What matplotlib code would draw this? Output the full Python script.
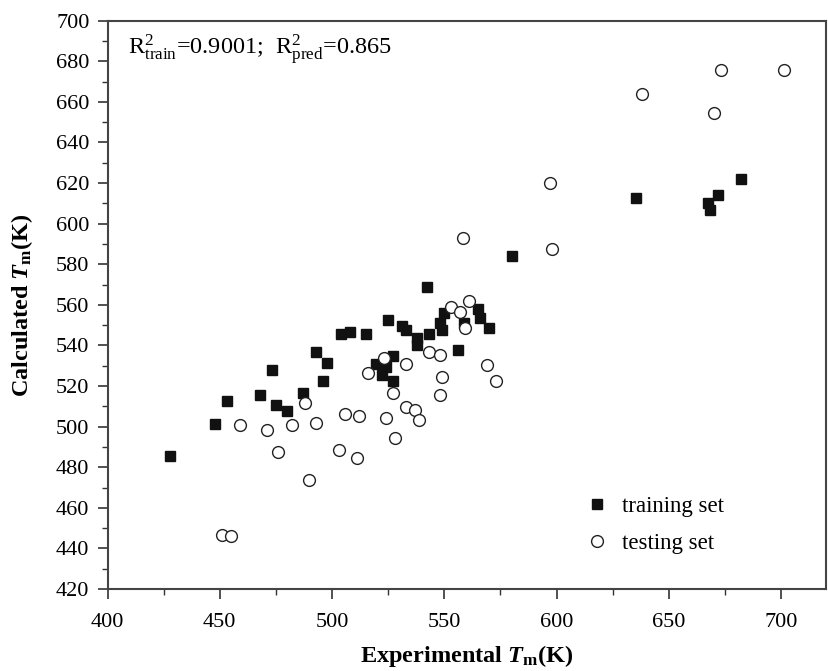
import matplotlib
matplotlib.use("Agg")
import matplotlib.pyplot as plt
from matplotlib.ticker import MultipleLocator

plt.rcParams["font.family"] = ["Liberation Serif", "DejaVu Serif"]
plt.rcParams["mathtext.fontset"] = "custom"
plt.rcParams["mathtext.rm"] = "Liberation Serif"
plt.rcParams["mathtext.it"] = "Liberation Serif:italic"
plt.rcParams["mathtext.bf"] = "Liberation Serif:bold"
plt.rcParams["mathtext.bfit"] = "Liberation Serif:italic:bold"

# training set (experimental, calculated)
train_exp = [427.9, 447.9, 453.0, 467.9, 473.1, 475.0, 480.0, 486.9, 492.8, 495.8,
             497.8, 504.1, 508.0, 515.0, 519.6, 522.1, 524.0, 524.9, 527.1, 527.1,
             531.0, 532.9, 538.0, 538.0, 542.2, 543.1, 548.1, 549.0, 549.9, 556.1,
             558.8, 565.0, 565.9, 570.1, 580.1, 635.2, 667.3, 668.2, 672.0, 682.2]
train_calc = [485.4, 501.4, 512.5, 515.4, 527.7, 510.5, 507.5, 516.4, 536.6, 522.5,
              531.5, 545.6, 546.8, 545.5, 530.7, 525.4, 529.5, 552.5, 534.8, 522.5,
              549.6, 547.6, 543.5, 540.2, 568.6, 545.5, 550.9, 547.6, 555.8, 537.8,
              550.9, 557.8, 553.4, 548.6, 584.0, 612.8, 610.0, 606.7, 614.0, 621.9]

# testing set
test_exp = [450.8, 455.2, 458.9, 471.0, 475.9, 482.0, 487.9, 489.8, 492.8, 502.9,
            505.9, 511.0, 511.9, 516.0, 523.1, 524.0, 527.0, 528.0, 532.9, 532.9,
            537.1, 538.9, 543.1, 548.0, 548.1, 549.0, 553.1, 557.2, 558.1, 559.1,
            561.0, 568.9, 573.1, 597.1, 598.0, 638.0, 670.0, 673.1, 701.2]
test_calc = [446.6, 446.1, 500.7, 498.3, 487.5, 500.7, 511.5, 473.7, 501.6, 488.3,
             506.4, 484.4, 505.4, 526.6, 533.7, 504.4, 516.4, 494.5, 530.7, 509.7,
             508.3, 503.4, 536.6, 515.4, 535.4, 524.4, 558.8, 556.6, 592.8, 548.6,
             561.7, 530.5, 522.5, 619.9, 587.5, 663.7, 654.7, 675.7, 675.7]

fig = plt.figure(figsize=(8.29, 6.71), dpi=100)
ax = fig.add_axes([0.1297, 0.1222, 0.8667, 0.847])

ax.plot(train_exp, train_calc, "s", markersize=7.8, color="#111111",
        markeredgecolor="#111111", linestyle="none", label="training set")
ax.plot(test_exp, test_calc, "o", markersize=8.5, markerfacecolor="white",
        markeredgecolor="#222222", markeredgewidth=1.0, linestyle="none",
        label="testing set")

ax.set_xlim(400, 720)
ax.set_ylim(420, 700)
ax.xaxis.set_major_locator(MultipleLocator(50))
ax.xaxis.set_minor_locator(MultipleLocator(25))
ax.yaxis.set_major_locator(MultipleLocator(20))
ax.yaxis.set_minor_locator(MultipleLocator(10))
ax.tick_params(which="major", direction="out", length=7, width=1.2,
               labelsize=16, color="#333333", pad=6)
ax.tick_params(axis="x", which="major", pad=10)
ax.tick_params(which="minor", direction="out", length=4, width=1.0,
               color="#333333")
for sp in ax.spines.values():
    sp.set_linewidth(1.5)
    sp.set_color("#444444")

ax.set_xlabel(r"Experimental $\mathbfit{T}_{\mathbf{m}}$(K)", fontsize=17.5,
              fontweight="bold", labelpad=8)
ax.set_ylabel(r"Calculated $\mathbfit{T}_{\mathbf{m}}$(K)", fontsize=17.5,
              fontweight="bold", labelpad=15)

ax.text(0.0285, 0.948,
        r"R$^2_{\mathrm{train}}$=0.9001;  R$^2_{\mathrm{pred}}$=0.865",
        transform=ax.transAxes, ha="left", va="center", fontsize=17.5)

ax.legend(loc="center left", bbox_to_anchor=(0.652, 0.113), frameon=False,
          fontsize=16.5, handlelength=1.0, handletextpad=0.6,
          labelspacing=0.68, borderaxespad=0)

fig.savefig("out.png", dpi=100)
